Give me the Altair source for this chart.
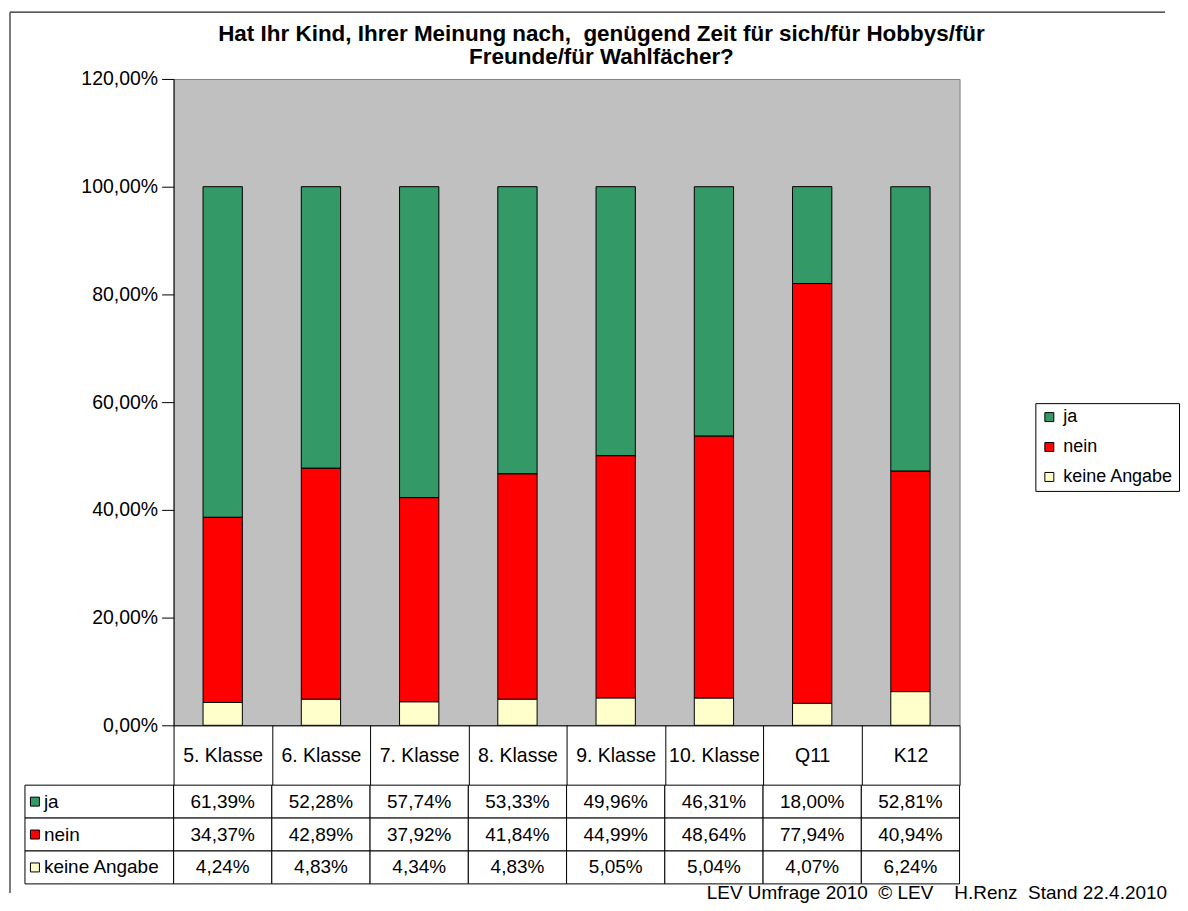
import altair as alt
import pandas as pd

categories = ["5. Klasse", "6. Klasse", "7. Klasse", "8. Klasse", "9. Klasse", "10. Klasse", "Q11", "K12"]
ja = [61.39, 52.28, 57.74, 53.33, 49.96, 46.31, 18.00, 52.81]
nein = [34.37, 42.89, 37.92, 41.84, 44.99, 48.64, 77.94, 40.94]
keine = [4.24, 4.83, 4.34, 4.83, 5.05, 5.04, 4.07, 6.24]
series = ["ja", "nein", "keine Angabe"]
stack_order = [2, 1, 0]
colors = ["#339966", "#FF0000", "#FFFFCC"]
y_ticks = [0, 20, 40, 60, 80, 100, 120]
NB = "\u00a0"
title_text = ("Hat Ihr Kind, Ihrer Meinung nach," + NB + " genügend Zeit für sich/für Hobbys/für\n"
              "Freunde/für Wahlfächer?")
footer = "LEV Umfrage 2010" + NB * 2 + "© LEV" + NB * 4 + "H.Renz" + NB * 2 + "Stand 22.4.2010"

FONT = "Liberation Sans, Arial, sans-serif"
FS = 19
FS_AX = 19.5

rows = []
for s, o, vals in zip(series, stack_order, [ja, nein, keine]):
    for c, v in zip(categories, vals):
        rows.append({"Klasse": c, "Serie": s, "Wert": v, "stackorder": o})
df = pd.DataFrame(rows)
series_df = pd.DataFrame({"Serie": series})
one = pd.DataFrame({"a": [0]})

x_scale = alt.Scale(domain=categories, paddingInner=0, paddingOuter=0)
row_scale = alt.Scale(domain=series, paddingInner=0, paddingOuter=0)
color_scale = alt.Scale(domain=series, range=colors)
W, H = 788, 648

bars = alt.Chart(df).mark_bar(
    width=alt.RelativeBandSize(0.4), stroke="black", strokeWidth=1
).encode(
    x=alt.X("Klasse:N", scale=x_scale, sort=categories,
            axis=alt.Axis(title=None, labelAngle=0, tickBand="extent", tickSize=60,
                          tickColor="black", domainColor="black", labelPadding=-30,
                          labelBaseline="middle", labelFontSize=FS_AX, labelFont=FONT,
                          labelColor="black")),
    y=alt.Y("Wert:Q", stack="zero", scale=alt.Scale(domain=[0, 120], nice=False),
            axis=alt.Axis(values=y_ticks, title=None, grid=False,
                          labelExpr="replace(format(datum.value/100, '.2%'), '.', ',')",
                          tickSize=12, tickColor="black", domainColor="black",
                          labelPadding=4, labelFontSize=FS_AX, labelFont=FONT,
                          labelColor="black")),
    color=alt.Color("Serie:N", scale=color_scale,
                    legend=alt.Legend(title=None, orient="none", legendX=864, legendY=325,
                                      direction="vertical", symbolType="square",
                                      symbolSize=81, symbolStrokeColor="black",
                                      symbolStrokeWidth=1,
                                      labelFontSize=18, labelFont=FONT, labelColor="black",
                                      strokeColor="black", fillColor="white",
                                      padding=5, rowPadding=12, labelOffset=5)),
    order=alt.Order("stackorder:Q", sort="ascending"),
)

title = alt.Chart(one).mark_text(fontSize=22.5, fontWeight="bold", font=FONT, align="center",
                                 baseline="alphabetic", color="black", lineBreak="\n",
                                 lineHeight=23).encode(
    x=alt.value(429), y=alt.value(-38), text=alt.value(title_text))

border_left = alt.Chart(one).mark_rule(color="#222222", strokeWidth=1.2).encode(
    x=alt.value(-164), y=alt.value(-67), y2=alt.value(816))
border_top = alt.Chart(one).mark_rule(color="#222222", strokeWidth=1.2).encode(
    x=alt.value(-164), x2=alt.value(994), y=alt.value(-67))

top = alt.layer(bars, title, border_left, border_top).properties(
    width=W, height=H, view=alt.ViewBackground(fill="#C0C0C0", stroke="#808080"))

# data table
cells = alt.Chart(df).mark_rect(fill="white", stroke="black", strokeWidth=1).encode(
    x=alt.X("Klasse:N", scale=x_scale, sort=categories, axis=None),
    y=alt.Y("Serie:N", scale=row_scale, axis=None),
)
cell_text = alt.Chart(df).transform_calculate(
    label="replace(format(datum.Wert/100, '.2%'), '.', ',')"
).mark_text(fontSize=FS, font=FONT, color="black", align="center", baseline="middle").encode(
    x=alt.X("Klasse:N", scale=x_scale, sort=categories, axis=None),
    y=alt.Y("Serie:N", scale=row_scale, axis=None),
    text="label:N",
)
left_cells = alt.Chart(series_df).mark_rect(fill="white", stroke="black", strokeWidth=1).encode(
    x=alt.value(-149), x2=alt.value(0),
    y=alt.Y("Serie:N", scale=row_scale, axis=None),
)
swatches = alt.Chart(series_df).mark_square(size=81, stroke="black", strokeWidth=1,
                                             opacity=1, filled=True).encode(
    x=alt.value(-139),
    y=alt.Y("Serie:N", scale=row_scale, axis=None),
    color=alt.Color("Serie:N", scale=color_scale, legend=None),
)
left_labels = alt.Chart(series_df).mark_text(fontSize=FS, font=FONT, color="black",
                                             align="left", baseline="middle").encode(
    x=alt.value(-130),
    y=alt.Y("Serie:N", scale=row_scale, axis=None),
    text="Serie:N",
)
foot = alt.Chart(one).mark_text(fontSize=FS, font=FONT, color="black", align="right",
                                baseline="alphabetic").encode(
    x=alt.value(996), y=alt.value(114), text=alt.value(footer))

bottom = alt.layer(cells, cell_text, left_cells, swatches, left_labels, foot).properties(
    width=W, height=99, view=alt.ViewBackground(fill="white", strokeWidth=0))

chart = alt.vconcat(top, bottom, spacing=60, bounds="flush").resolve_scale(
    color="independent", x="independent", y="independent"
).properties(
    padding={"left": 0, "top": 1, "right": 0, "bottom": 0}
).configure(background="white")

chart.save("out.html", embed_options={"renderer": "svg", "actions": False})
